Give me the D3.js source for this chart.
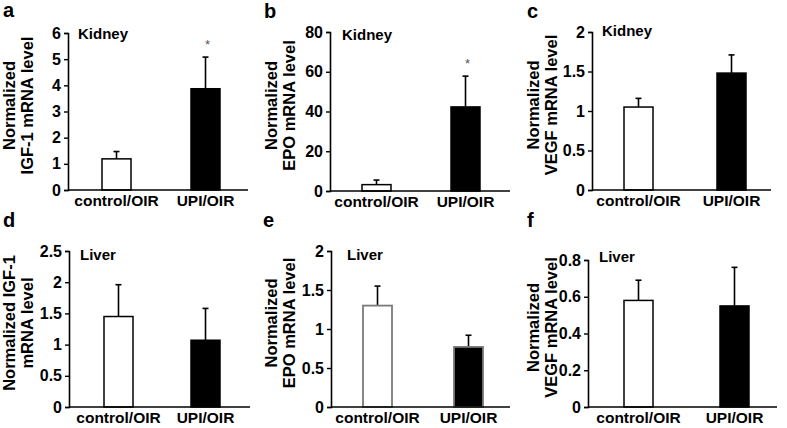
<!DOCTYPE html>
<html><head><meta charset="utf-8">
<script src="https://cdn.jsdelivr.net/npm/d3@7"></script>
<style>body{margin:0;background:#fff}svg{display:block}text{font-family:"Liberation Sans",Arial,sans-serif;font-weight:bold}</style>
</head><body>
<svg id="chart" width="787" height="428"></svg>
<script>
const categories = ["control/OIR", "UPI/OIR"];
const panelLetters = ["a", "b", "c", "d", "e", "f"];
const tissues = ["Kidney", "Kidney", "Kidney", "Liver", "Liver", "Liver"];
const yLabels = [
  ["Normalized", "IGF-1 mRNA level"],
  ["Normalized", "EPO mRNA level"],
  ["Normalized", "VEGF mRNA level"],
  ["Normalized IGF-1", "mRNA level"],
  ["Normalized", "EPO mRNA level"],
  ["Normalized", "VEGF mRNA level"]
];
const yMax = [6, 80, 2, 2.5, 2, 0.8];
const yTicks = [
  [0, 1, 2, 3, 4, 5, 6],
  [0, 20, 40, 60, 80],
  [0, 0.5, 1, 1.5, 2],
  [0, 0.5, 1, 1.5, 2, 2.5],
  [0, 0.5, 1, 1.5, 2],
  [0, 0.2, 0.4, 0.6, 0.8]
];
const yTickLabels = [
  ["0", "1", "2", "3", "4", "5", "6"],
  ["0", "20", "40", "60", "80"],
  ["0", "0.5", "1", "1.5", "2"],
  ["0", "0.5", "1", "1.5", "2", "2.5"],
  ["0", "0.5", "1", "1.5", "2"],
  ["0", "0.2", "0.4", "0.6", "0.8"]
];
const controlValues = [1.19, 3.2, 1.05, 1.45, 1.30, 0.58];
const controlErrors = [0.28, 2.3, 0.11, 0.51, 0.25, 0.11];
const upiValues = [3.87, 42.3, 1.48, 1.07, 0.77, 0.55];
const upiErrors = [1.21, 15.5, 0.23, 0.51, 0.15, 0.21];
const significant = [true, true, false, false, false, false];

// layout (positions only)
const layout = [
  {ox: 0,   oy: 0,   left: 68, right: 248, top: 33, bottom: 190, b1: 102, b2: 191},
  {ox: 262, oy: 0,   left: 68, right: 248, top: 32, bottom: 191, b1: 100, b2: 189},
  {ox: 524, oy: 0,   left: 68, right: 247, top: 32, bottom: 190, b1: 100, b2: 193},
  {ox: 0,   oy: 214, left: 69, right: 250, top: 37, bottom: 193, b1: 104, b2: 191},
  {ox: 262, oy: 214, left: 69, right: 248, top: 37, bottom: 193, b1: 101, b2: 192},
  {ox: 524, oy: 214, left: 64, right: 253, top: 46, bottom: 193, b1: 100, b2: 196}
];
const labelPos = [
  {lx: 3, ly: 17, tx: 78, ty: 39},
  {lx: 2, ly: 18, tx: 80, ty: 40},
  {lx: 3, ly: 18, tx: 78, ty: 36},
  {lx: 3, ly: 13, tx: 80, ty: 46},
  {lx: 1, ly: 13, tx: 85, ty: 46},
  {lx: 3, ly: 13, tx: 75, ty: 48}
];
const barW = 29;

const svg = d3.select("#chart");

for (let i = 0; i < 6; i++) {
  const L = layout[i], P = labelPos[i];
  const g = svg.append("g").attr("transform", `translate(${L.ox},${L.oy})`);
  const y = d3.scaleLinear().domain([0, yMax[i]]).range([L.bottom, L.top]);
  const xs = d3.scalePoint().domain(categories).range([L.b1 + barW / 2, L.b2 + barW / 2]);

  const isE = i === 4;
  const data = [
    {c: categories[0], v: controlValues[i], e: controlErrors[i], fill: "#fff"},
    {c: categories[1], v: upiValues[i], e: upiErrors[i], fill: "#000"}
  ];

  // error bars
  data.forEach(d => {
    const cx = xs(d.c);
    g.append("line").attr("x1", cx).attr("x2", cx)
      .attr("y1", y(d.v)).attr("y2", y(d.v + d.e))
      .attr("stroke", "#000").attr("stroke-width", 1.6);
    g.append("line").attr("x1", cx - 3).attr("x2", cx + 3)
      .attr("y1", y(d.v + d.e)).attr("y2", y(d.v + d.e))
      .attr("stroke", "#000").attr("stroke-width", 1.6);
  });

  // bars
  g.selectAll("rect.bar").data(data).enter().append("rect")
    .attr("class", "bar")
    .attr("x", d => xs(d.c) - barW / 2)
    .attr("width", barW)
    .attr("y", d => y(d.v))
    .attr("height", d => L.bottom - y(d.v))
    .attr("fill", d => d.fill)
    .attr("stroke", isE ? "#7a7a7a" : "#000")
    .attr("stroke-width", isE ? 1.8 : 1.5);

  // significance
  if (significant[i]) {
    g.append("text").attr("x", xs(categories[1]) + 2).attr("y", y(upiValues[i] + upiErrors[i]) - 8)
      .attr("text-anchor", "middle").attr("font-size", 13).attr("fill", "#555")
      .style("font-weight", "normal").text("*");
  }

  // y axis
  const yAxis = d3.axisLeft(y).tickValues(yTicks[i])
    .tickFormat((d, k) => yTickLabels[i][k]).tickSizeOuter(0).tickSize(4).tickPadding(3);
  const ga = g.append("g").attr("transform", `translate(${L.left},0)`).call(yAxis);
  ga.attr("font-size", null).attr("font-family", null);
  ga.select(".domain").attr("stroke", "#000").attr("stroke-width", 1.6);
  ga.selectAll(".tick line").attr("stroke", "#000").attr("stroke-width", 1.4);
  ga.selectAll(".tick text").attr("font-size", 16).attr("fill", "#000");

  // x axis baseline
  g.append("line").attr("x1", L.left).attr("x2", L.right)
    .attr("y1", L.bottom).attr("y2", L.bottom)
    .attr("stroke", "#000").attr("stroke-width", 1.6);

  // x labels
  categories.forEach(c => {
    g.append("text").attr("x", xs(c)).attr("y", L.bottom + 15.5)
      .attr("text-anchor", "middle").attr("font-size", 15.5).attr("fill", "#000").text(c);
  });

  // tissue label
  g.append("text").attr("x", P.tx).attr("y", P.ty).attr("font-size", 15).text(tissues[i]);

  // panel letter
  g.append("text").attr("x", P.lx).attr("y", P.ly).attr("font-size", 20).text(panelLetters[i]);

  // y label
  const cy = (L.top + L.bottom) / 2 - 6;
  const yl = g.append("text").attr("transform", `translate(0,${cy}) rotate(-90)`)
    .attr("text-anchor", "middle").attr("font-size", 16.5);
  yl.append("tspan").attr("x", 0).attr("y", 15).text(yLabels[i][0]);
  yl.append("tspan").attr("x", 0).attr("y", 33).text(yLabels[i][1]);
}
</script>
</body></html>
